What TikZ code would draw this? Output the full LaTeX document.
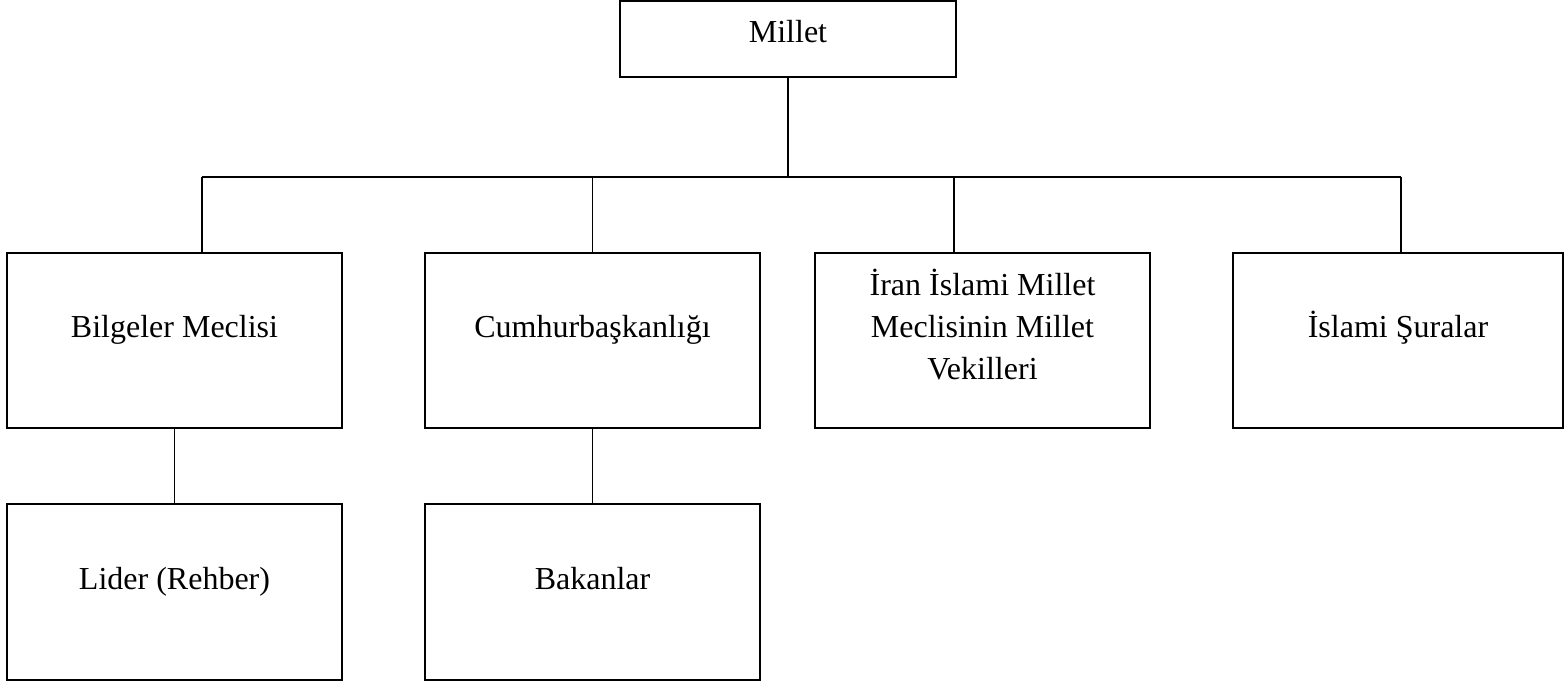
\documentclass[tikz,border=0pt]{standalone}
\usepackage{fontspec}
\setmainfont{Liberation Serif}
\tikzset{
  box/.style={draw, line width=1pt, inner sep=0pt, outer sep=0pt,
    minimum width=167.5pt, minimum height=87.5pt, align=center,
    font=\fontsize{16pt}{21pt}\selectfont},
  rowbox/.style={box, text height=11pt, text depth=13.5pt},
  link/.style={line width=0.8pt}
}
\begin{document}
\begin{tikzpicture}[x=0.5pt, y=-0.5pt]
      \useasboundingbox (0,0) rectangle (1564,683);
      %
      \node[box, minimum width=168pt, minimum height=38pt,
        text height=11pt, text depth=7pt] (millet) at (788,39) {Millet}; % top
      %
      \node[rowbox] (bm) at (174.5,340.5) {Bilgeler Meclisi};          % second row
      \node[rowbox] (cb) at (592.5,340.5) {Cumhurbaşkanlığı};
      \node[box, text depth=16.5pt] (iran) at (982.5,340.5)
        {İran İslami Millet\\Meclisinin Millet\\Vekilleri};
      \node[rowbox, minimum width=165pt] (isl) at (1398,340.5) {İslami Şuralar};
      %
      \node[rowbox, minimum height=88pt] (lider) at (174.5,592) {Lider (Rehber)}; % third row
      \node[rowbox, minimum height=88pt] (bak) at (592.5,592) {Bakanlar};
      %
      \coordinate (hl) at (202,177);   % bar ends and drops
      \coordinate (hb) at (592.5,177);
      \coordinate (hc) at (954,177);
      \coordinate (hr) at (1401,177);
      %
      \draw[link] (millet.south) -- (millet.south |- hl);
      \draw[link] (hl) -- (hr);
      %
      \draw[link] (hl) -- (hl |- bm.north);
      \draw[link] (hb) -- (hb |- cb.north);
      \draw[link] (hc) -- (hc |- iran.north);
      \draw[link] (hr) -- (hr |- isl.north);
      %
      \draw[link] (bm.south) -- (lider.north);
      \draw[link] (cb.south) -- (bak.north);
      %
    \end{tikzpicture}
\end{document}
